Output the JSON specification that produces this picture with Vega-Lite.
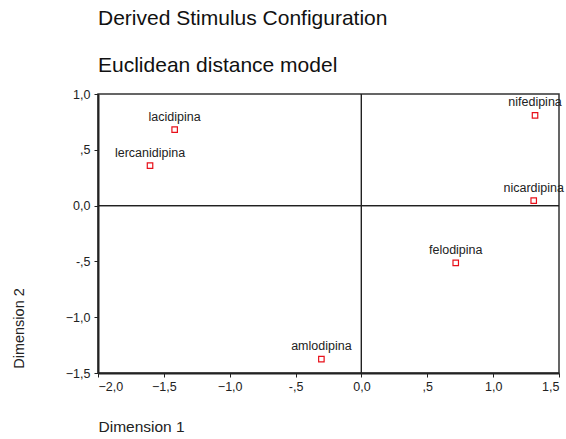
{
  "$schema": "https://vega.github.io/schema/vega-lite/v6.json",
  "autosize": "none",
  "width": 461,
  "height": 279,
  "padding": {"left": 98, "top": 94, "right": 7, "bottom": 66},
  "background": "white",
  "config": {
    "font": "Liberation Sans",
    "view": {"stroke": "#333333", "strokeWidth": 1.5},
    "axis": {
      "grid": false,
      "domainColor": "#222222",
      "domainWidth": 2,
      "tickColor": "#222222",
      "tickSize": 4,
      "labelFont": "Liberation Sans",
      "labelFontSize": 12.5,
      "labelColor": "#222222",
      "titleFont": "Liberation Sans",
      "titleFontSize": 15.5,
      "titleFontWeight": "normal",
      "titleColor": "#222222"
    }
  },
  "title": {
    "text": "Derived Stimulus Configuration",
    "subtitle": "Euclidean distance model",
    "anchor": "start",
    "frame": "group",
    "font": "Liberation Sans",
    "subtitleFont": "Liberation Sans",
    "fontSize": 21,
    "subtitleFontSize": 21,
    "fontWeight": "normal",
    "color": "#111111",
    "subtitleColor": "#111111",
    "subtitlePadding": 26,
    "offset": 12
  },
  "data": {
    "values": [
      {"drug": "lacidipina", "dim1": -1.418, "dim2": 0.68},
      {"drug": "lercanidipina", "dim1": -1.605, "dim2": 0.358},
      {"drug": "amlodipina", "dim1": -0.304, "dim2": -1.375},
      {"drug": "nifedipina", "dim1": 1.318, "dim2": 0.809},
      {"drug": "nicardipina", "dim1": 1.308, "dim2": 0.045},
      {"drug": "felodipina", "dim1": 0.716, "dim2": -0.513}
    ]
  },
  "encoding": {
    "x": {
      "field": "dim1",
      "type": "quantitative",
      "scale": {"domain": [-2, 1.5], "nice": false, "zero": false},
      "axis": {
        "values": [-2, -1.5, -1, -0.5, 0, 0.5, 1, 1.5],
        "labelExpr": "datum.value == 0.5 ? ',5' : datum.value == -0.5 ? '-,5' : replace(format(datum.value, '.1f'), '.', ',')",
        "labelPadding": 3,
        "title": "Dimension 1",
        "titleAnchor": "start",
        "titleAlign": "left",
        "titleX": 0,
        "titleY": 58,
        "titleBaseline": "alphabetic"
      }
    },
    "y": {
      "field": "dim2",
      "type": "quantitative",
      "scale": {"domain": [-1.5, 1], "nice": false, "zero": false},
      "axis": {
        "values": [-1.5, -1, -0.5, 0, 0.5, 1],
        "labelExpr": "datum.value == 0.5 ? ',5' : datum.value == -0.5 ? '-,5' : replace(format(datum.value, '.1f'), '.', ',')",
        "labelPadding": 4,
        "title": "Dimension 2",
        "titleFontSize": 14.5,
        "titleAngle": 270,
        "titleAlign": "center",
        "titleBaseline": "middle",
        "titleX": -79,
        "titleY": 234
      }
    }
  },
  "layer": [
    {
      "mark": {"type": "rule", "color": "#222222", "strokeWidth": 1},
      "encoding": {"x": {"datum": 0}, "y": {"value": 0}, "y2": {"value": 279}}
    },
    {
      "mark": {"type": "rule", "color": "#222222", "strokeWidth": 1},
      "encoding": {"y": {"datum": 0}, "x": {"value": 0}, "x2": {"value": 461}}
    },
    {
      "mark": {"type": "point", "shape": "square", "filled": false, "size": 30, "stroke": "#e8101a", "strokeWidth": 1.2, "opacity": 1}
    },
    {
      "mark": {"type": "text", "baseline": "alphabetic", "dy": -9, "fontSize": 12.5, "color": "#222222", "font": "Liberation Sans"},
      "encoding": {"text": {"field": "drug"}}
    }
  ]
}
